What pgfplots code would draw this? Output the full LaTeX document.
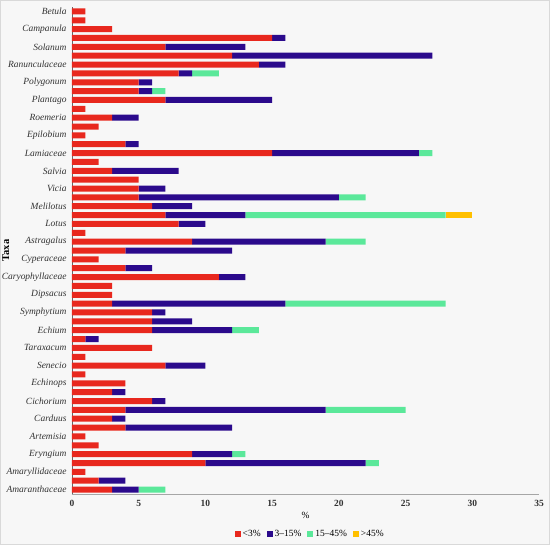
\documentclass[border=0pt]{standalone}
\usepackage{pgfplots}
\pgfplotsset{compat=1.18}
\usepackage{pgfplotstable}
\usepackage{fontspec}
\setmainfont{Liberation Serif}
\definecolor{cr}{HTML}{E8281E}
\definecolor{cb}{HTML}{2B0A8C}
\definecolor{cg}{HTML}{5BE89A}
\definecolor{cy}{HTML}{FFC000}
\definecolor{bgc}{HTML}{F7F7F7}
\pgfplotstableread{
y r b g o
54 1 0 0 0
53 1 0 0 0
52 3 0 0 0
51 15 1 0 0
50 7 6 0 0
49 12 15 0 0
48 14 2 0 0
47 8 1 2 0
46 5 1 0 0
45 5 1 1 0
44 7 8 0 0
43 1 0 0 0
42 3 2 0 0
41 2 0 0 0
40 1 0 0 0
39 4 1 0 0
38 15 11 1 0
37 2 0 0 0
36 3 5 0 0
35 5 0 0 0
34 5 2 0 0
33 5 15 2 0
32 6 3 0 0
31 7 6 15 2
30 8 2 0 0
29 1 0 0 0
28 9 10 3 0
27 4 8 0 0
26 2 0 0 0
25 4 2 0 0
24 11 2 0 0
23 3 0 0 0
22 3 0 0 0
21 3 13 12 0
20 6 1 0 0
19 6 3 0 0
18 6 6 2 0
17 1 1 0 0
16 6 0 0 0
15 1 0 0 0
14 7 3 0 0
13 1 0 0 0
12 4 0 0 0
11 3 1 0 0
10 6 1 0 0
9 4 15 6 0
8 3 1 0 0
7 4 8 0 0
6 1 0 0 0
5 2 0 0 0
4 9 3 1 0
3 10 12 1 0
2 1 0 0 0
1 2 2 0 0
0 3 2 2 0
}\datatable
\begin{document}
\begin{tikzpicture}
\fill[bgc] (-72bp,-51bp) rectangle (478bp,494bp);
\draw[gray!30, line width=0.8bp] (-71.6bp,-50.6bp) rectangle (477.6bp,493.6bp);
\begin{axis}[
  at={(0,0)}, anchor=south west,
  scale only axis, width=467bp, height=487bp,
  xbar stacked, bar width=6bp,
  xmin=0, xmax=35, ymin=-0.5, ymax=54.5,
  xtick={0,5,...,35},
  ytick={0,2,...,54},
  yticklabels={Amaranthaceae,Amaryllidaceae,Eryngium,Artemisia,Carduus,Cichorium,Echinops,Senecio,Taraxacum,Echium,Symphytium,Dipsacus,Caryophyllaceae,Cyperaceae,Astragalus,Lotus,Melilotus,Vicia,Salvia,Lamiaceae,Epilobium,Roemeria,Plantago,Polygonum,Ranunculaceae,Solanum,Campanula,Betula},
  yticklabel style={font=\fontsize{9.5}{10}\selectfont\itshape, color=black!80, xshift=-2bp},
  xticklabel style={font=\fontsize{9.5}{10}\selectfont\bfseries, color=black!80, yshift=-3bp},
  /pgf/number format/assume math mode=true,
  major tick length=0pt,
  axis x line*=bottom, axis y line*=left,
  x axis line style={gray!70, line width=0.8bp, -},
  y axis line style={black!60, line width=0.8bp, -},
  xlabel={\%}, xlabel style={font=\fontsize{9.5}{10}\selectfont, yshift=2bp},
  ylabel={\textbf{Taxa}}, ylabel style={font=\fontsize{10.5}{11}\selectfont, at={(axis description cs:-0.127,0.5)}},
  legend style={draw=none, fill=none, font=\fontsize{9.5}{10}\selectfont, legend columns=4,
    at={(axis description cs:0.51,-0.082)}, anchor=center,
    /tikz/every even column/.append style={column sep=4bp}},
  legend image code/.code={\fill[#1] (0bp,-3bp) rectangle (6bp,3bp);},
  clip=false,
]
\addplot[fill=cr, draw=none] table[x=r, y=y] {\datatable};
\addplot[fill=cb, draw=none] table[x=b, y=y] {\datatable};
\addplot[fill=cg, draw=none] table[x=g, y=y] {\datatable};
\addplot[fill=cy, draw=none] table[x=o, y=y] {\datatable};
\legend{<3\%, 3–15\%, 15–45\%, >45\%}
\end{axis}
\pgfresetboundingbox
\path (-72bp,-51bp) rectangle (478bp,494bp);
\end{tikzpicture}
\end{document}
